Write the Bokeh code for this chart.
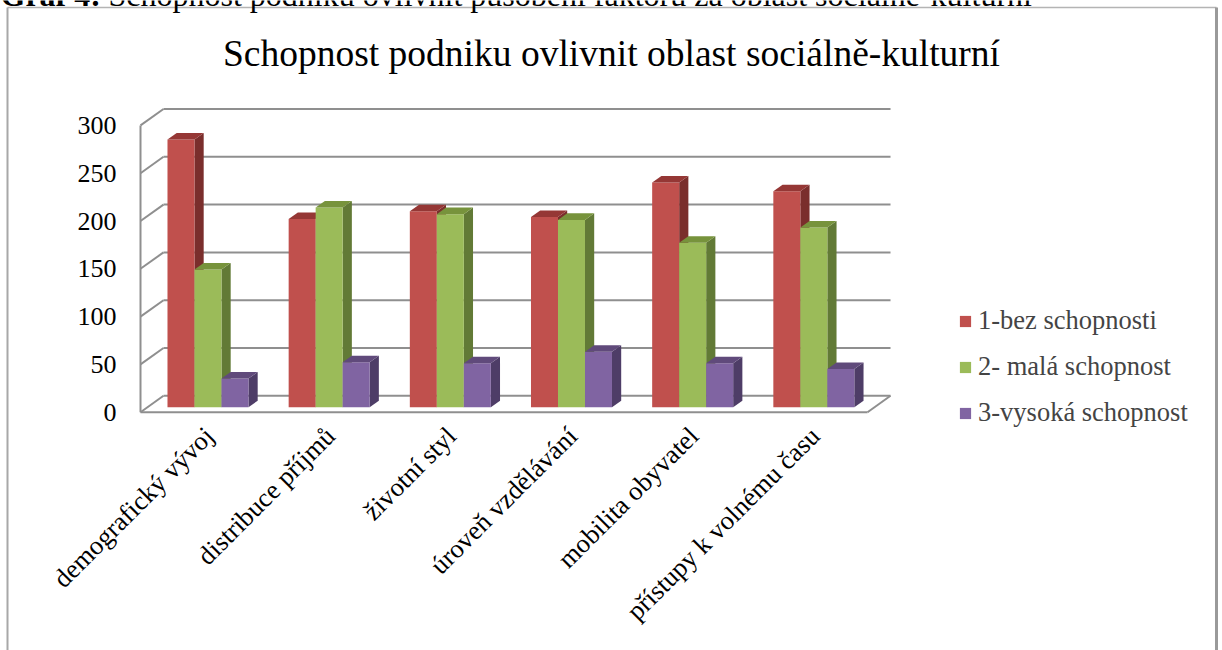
import numpy as np
from bokeh.plotting import figure
from bokeh.models import Range1d, Label
from bokeh.core.properties import value
from bokeh.embed import file_html
from bokeh.resources import INLINE

# ---------------- data ----------------
categories = ["demografický vývoj", "distribuce příjmů", "životní styl",
              "úroveň vzdělávání", "mobilita obyvatel", "přístupy k volnému času"]
series_names = ["1-bez schopnosti", "2- malá schopnost", "3-vysoká schopnost"]
bez_schopnosti = [280, 197, 205, 199, 235, 226]
mala_schopnost = [144, 209, 202, 196, 172, 188]
vysoka_schopnost = [30, 47, 46, 58, 46, 40]
y_ticks = [0, 50, 100, 150, 200, 250, 300]
title_text = "Schopnost podniku ovlivnit oblast sociálně-kulturní"
caption_bold = "Graf 4:"
caption_rest = "Schopnost podniku ovlivnit působení faktorů za oblast sociálně-kulturní"

# ---------------- styling / geometry ----------------
W, H = 1222, 650
X0, Y0 = 140.0, 411.7      # screen position of front-plane origin
SX, SY = 121.17, 0.956     # px per category unit, px per value unit
FONT = "Liberation Serif"

def dx(px):  # screen x -> data x
    return (px - X0) / SX

def dy(py):  # screen y -> data y
    return (Y0 - py) / SY

DX = 23.0 / SX          # full depth offset (x)
DY = 16.4 / SY          # full depth offset (y)
BW = 27.0 / SX          # bar width
F0, BD = 0.3, 0.4       # bar front depth fraction, bar depth fraction

front_cols = ["#C0504D", "#9BBB59", "#8064A2"]
top_cols = ["#953735", "#77933C", "#604A7B"]
side_cols = ["#7A2E2C", "#627A36", "#4E3D67"]
GRID = "#8f8f8f"

p = figure(width=W, height=H, x_range=Range1d(dx(0), dx(W)), y_range=Range1d(dy(H), dy(0)),
           output_backend="svg", toolbar_location=None, min_border=0,
           x_axis_type=None, y_axis_type=None)
p.grid.visible = False
p.outline_line_color = None
p.background_fill_color = "white"
p.border_fill_color = "white"

ncat = len(categories)
top_v = max(y_ticks)

# back wall gridlines
p.multi_line(xs=[[DX, ncat + DX] for _ in y_ticks], ys=[[v + DY, v + DY] for v in y_ticks],
             line_color=GRID, line_width=2)
# left wall diagonals
p.multi_line(xs=[[0, DX] for _ in y_ticks], ys=[[v, v + DY] for v in y_ticks],
             line_color=GRID, line_width=2)
# front-left vertical edge, floor front edge and right floor edge
p.multi_line(xs=[[0, 0], [0, ncat], [ncat, ncat + DX]],
             ys=[[0, top_v], [0, 0], [0, DY]],
             line_color=GRID, line_width=2)

# ---------------- 3D bars ----------------
all_series = [bez_schopnosti, mala_schopnost, vysoka_schopnost]
centers = np.arange(ncat) + 0.5
for s, vals in enumerate(all_series):
    vals = np.array(vals, dtype=float)
    left = centers - 1.5 * BW + s * BW + F0 * DX
    right = left + BW
    bottom = np.full(ncat, F0 * DY)
    top = bottom + vals
    bdx, bdy = BD * DX, BD * DY
    side_xs = [[r, r + bdx, r + bdx, r] for r in right]
    side_ys = [[b, b + bdy, t + bdy, t] for b, t in zip(bottom, top)]
    top_xs = [[l, r, r + bdx, l + bdx] for l, r in zip(left, right)]
    top_ys = [[t, t, t + bdy, t + bdy] for t in top]
    p.patches(xs=side_xs, ys=side_ys, fill_color=side_cols[s], line_color=None)
    p.quad(left=left, right=right, bottom=bottom, top=top, fill_color=front_cols[s],
           line_color=None, legend_label=series_names[s])
    p.patches(xs=top_xs, ys=top_ys, fill_color=top_cols[s], line_color=None)

# ---------------- tick labels ----------------
p.text(x=[dx(116)] * len(y_ticks), y=y_ticks, text=[str(v) for v in y_ticks],
       text_font=value(FONT), text_font_size="26px", text_align="right",
       text_baseline="middle", text_color="black")

p.text(x=list(centers + dx(148) - dx(140)), y=[dy(431)] * ncat, text=categories,
       angle=np.pi / 4, text_font=value(FONT), text_font_size="26.5px",
       text_align="right", text_baseline="middle", text_color="black")

# ---------------- title & caption ----------------
p.add_layout(Label(x=W / 2, y=H - 53, x_units="screen", y_units="screen", text=title_text,
                   text_font=FONT, text_font_size="37.5px", text_align="center",
                   text_baseline="middle", text_color="black"))
p.add_layout(Label(x=0, y=H + 6, x_units="screen", y_units="screen", text=caption_bold,
                   text_font=FONT, text_font_size="32px", text_font_style="bold",
                   text_align="left", text_baseline="alphabetic", text_color="black"))
p.add_layout(Label(x=108, y=H + 6, x_units="screen", y_units="screen", text=caption_rest,
                   text_font=FONT, text_font_size="32px",
                   text_align="left", text_baseline="alphabetic", text_color="black"))

# ---------------- outer frame ----------------
p.segment(x0=[dx(7), dx(7), dx(1216)], y0=[dy(7), dy(7), dy(7)],
          x1=[dx(1216), dx(7), dx(1216)], y1=[dy(7), dy(H), dy(H)],
          line_color=["#b4b4b4", "#a8a8a8", "#9a9a9a"], line_width=[1.5, 2, 3])

# ---------------- legend ----------------
lg = p.legend[0]
lg.location = (958, 222)
lg.padding = 0
lg.margin = 0
lg.spacing = 15
lg.glyph_width = 14
lg.glyph_height = 14
lg.label_height = 30
lg.label_standoff = 6
lg.label_text_font = FONT
lg.label_text_font_size = "26.5px"
lg.background_fill_alpha = 0
lg.border_line_alpha = 0

open("out.html", "w").write(file_html(p, INLINE))
